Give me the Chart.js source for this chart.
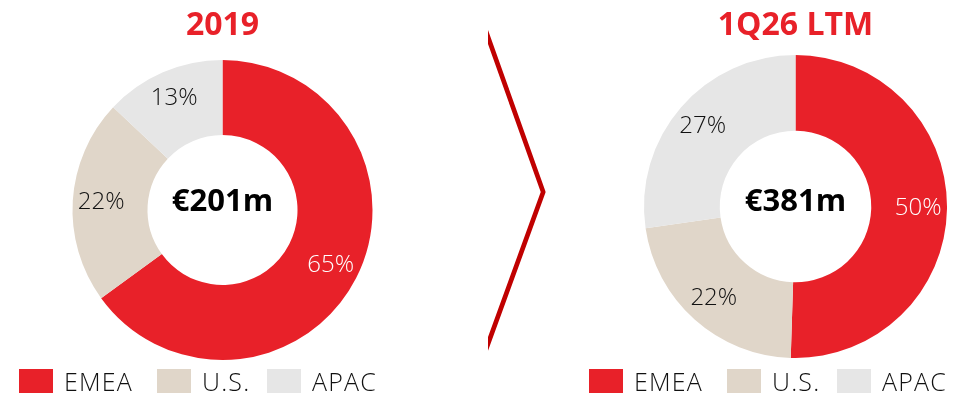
<!DOCTYPE html>
<html>
<head>
<meta charset="utf-8">
<script src="https://cdn.jsdelivr.net/npm/chart.js@4.4.1/dist/chart.umd.min.js"></script>
<style>
  html, body { margin: 0; padding: 0; background: #fff; }
  body { width: 968px; height: 393px; position: relative; overflow: hidden; font-family: "Open Sans", sans-serif; }
  .box { position: absolute; top: 0; height: 393px; }
  #box2019 { left: 0; width: 445px; }
  #boxLtm { left: 623px; width: 345px; }
  .legend { position: absolute; top: 369px; height: 24px; display: flex; }
  #legend2019 { left: 19px; }
  #legendLtm { left: 589px; }
  .legend .item { display: flex; align-items: center; height: 24px; }
  .legend .item:nth-child(1) { width: 138px; }
  .legend .item:nth-child(2) { width: 110px; }
  .legend .sw { width: 34px; height: 24px; margin-right: 11px; flex: none; }
  .legend span { font-weight: 300; font-size: 25px; letter-spacing: 1.2px; color: #111; white-space: nowrap; }
  #chevron { position: absolute; left: 488px; top: 0; overflow: hidden; }
</style>
</head>
<body>
<div class="box" id="box2019"><canvas id="chart2019"></canvas></div>
<div class="box" id="boxLtm"><canvas id="chartLtm"></canvas></div>
<svg id="chevron" width="70" height="393">
  <polyline points="-13.2,0 55.2,192 -17.8,393" fill="none" stroke="#C00000" stroke-width="4.7" stroke-linejoin="round"/>
</svg>
<div class="legend" id="legend2019"></div>
<div class="legend" id="legendLtm"></div>

<script>
// regions and colours
var categories = ['EMEA', 'U.S.', 'APAC'];
var colors = ['#E82129', '#E0D6C9', '#E6E6E6'];

// revenue split, in %
var values2019 = [65, 22, 13];
var valuesLtm = [50.5, 22.2, 27.3];

// labels printed on the slices
var labels2019 = ['65%', '22%', '13%'];
var labelsLtm = ['50%', '22%', '27%'];

var periods = ['2019', '1Q26 LTM'];
var totals = ['€201m', '€381m'];

// text on each slice, at the middle of the ring
var sliceLabels = {
  id: 'sliceLabels',
  afterDatasetsDraw: function (chart, args, opts) {
    var ctx = chart.ctx;
    var arcs = chart.getDatasetMeta(0).data;
    ctx.save();
    ctx.font = '300 24px "Open Sans"';
    ctx.textAlign = 'center';
    ctx.textBaseline = 'middle';
    arcs.forEach(function (arc, i) {
      var p = arc.getProps(['x', 'y', 'startAngle', 'endAngle', 'outerRadius']);
      var mid = (p.startAngle + p.endAngle) / 2;
      var r = p.outerRadius * 0.81;
      ctx.fillStyle = i === 0 ? '#ffffff' : '#111111';
      ctx.fillText(opts.texts[i], p.x + Math.cos(mid) * r, p.y + Math.sin(mid) * r);
    });
    ctx.restore();
  }
};

// total in the hole
var centerText = {
  id: 'centerText',
  afterDraw: function (chart, args, opts) {
    var arc = chart.getDatasetMeta(0).data[0];
    var ctx = chart.ctx;
    ctx.save();
    ctx.font = 'bold 31px "Open Sans"';
    ctx.fillStyle = '#000';
    ctx.textAlign = 'center';
    ctx.textBaseline = 'middle';
    ctx.fillText(opts.text, arc.x, arc.y + opts.dy);
    ctx.restore();
  }
};

function makeChart(id, values, texts, title, total, titlePad, bottomPad, dy) {
  var ctx = document.getElementById(id).getContext('2d');
  return new Chart(ctx, {
    type: 'doughnut',
    data: {
      labels: categories,
      datasets: [{
        data: values,
        backgroundColor: colors,
        borderWidth: 0
      }]
    },
    options: {
      responsive: true,
      maintainAspectRatio: false,
      animation: false,
      cutout: '50%',
      layout: { padding: { bottom: bottomPad } },
      plugins: {
        legend: { display: false },
        tooltip: { enabled: false },
        title: {
          display: true,
          text: title,
          color: '#E82129',
          font: { family: 'Open Sans', size: 32, weight: 'bold' },
          padding: titlePad
        },
        sliceLabels: { texts: texts },
        centerText: { text: total, dy: dy }
      }
    },
    plugins: [sliceLabels, centerText]
  });
}

makeChart('chart2019', values2019, labels2019, periods[0], totals[0], { top: 6.8, bottom: 14.8 }, 33, -8);
makeChart('chartLtm', valuesLtm, labelsLtm, periods[1], totals[1], { top: 6.3, bottom: 10.3 }, 35, -4);

// legends
function makeLegend(id) {
  var el = document.getElementById(id);
  categories.forEach(function (c, i) {
    var item = document.createElement('div');
    item.className = 'item';
    var sw = document.createElement('div');
    sw.className = 'sw';
    sw.style.background = colors[i];
    var txt = document.createElement('span');
    txt.textContent = c;
    item.appendChild(sw);
    item.appendChild(txt);
    el.appendChild(item);
  });
}
makeLegend('legend2019');
makeLegend('legendLtm');
</script>
</body>
</html>
